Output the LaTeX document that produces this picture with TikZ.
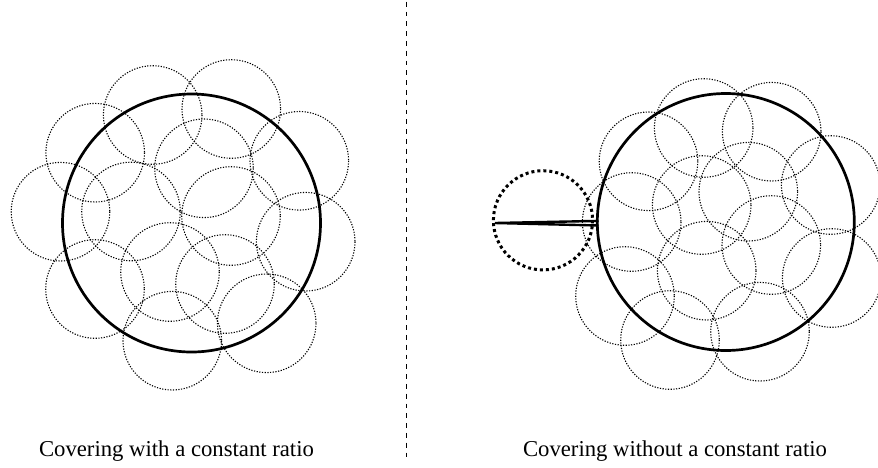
\documentclass[tikz,border=0pt]{standalone}
\usepackage{fontspec}
\setmainfont{Liberation Serif}
\begin{document}
\begin{tikzpicture}[x=1pt, y=-1pt]
\tikzset{
  cover/.style={line width=1.1pt, dash pattern=on 1.2pt off 1.5pt},
  bigdisk/.style={line width=2.7pt},
  caption/.style={font=\fontsize{22.7}{27}\selectfont, inner sep=0pt, anchor=base},
}
\useasboundingbox (0,0) rectangle (878,467);

  % -- Separator --
  \draw[line width=1.3pt, dash pattern=on 4.8pt off 5pt] (406.7,1.7) -- (406.7,462);

  % -- Left: small balls of equal radius --
  \foreach \cx/\cy in {152.7/115, 231.3/109, 95.2/152.7, 299.3/160.8, 60.5/211.7,
                       131/211.5, 204/168.3, 231/216, 305.7/241.7, 95/289,
                       170/272, 225/284, 266.7/323.3, 172.3/340.7}
    \draw[cover] (\cx,\cy) circle[radius=49.3];

  % -- Left: the covered set --
  \draw[bigdisk] (191.5,223) circle[radius=129];

  % -- Right: small balls of equal radius --
  \foreach \cx/\cy in {648.5/161.3, 703.7/128, 771.7/131.7, 830.7/185, 631.7/222,
                       701.7/205, 748.3/191.7, 771.3/245, 831.7/278, 625/296,
                       706.7/270.7, 670/340, 760/331.7}
    \draw[cover] (\cx,\cy) circle[radius=49.3];

  % -- Right: the covered set with its slit --
  \draw[bigdisk] (725.8,222) circle[radius=128.5];
  \draw[line width=3pt, dash pattern=on 3pt off 3pt] (543,220.3) circle[radius=49.6];
  \draw[line width=2.4pt, line join=miter, miter limit=40] (598.5,220.9) -- (495,223) -- (598.5,225.5);

  % Captions
  \node[caption] (capleft) at (176.5,456.7) {Covering with a constant ratio};
  \node[caption] (capright) at (675,456.7) {Covering without a constant ratio};

\end{tikzpicture}
\end{document}
